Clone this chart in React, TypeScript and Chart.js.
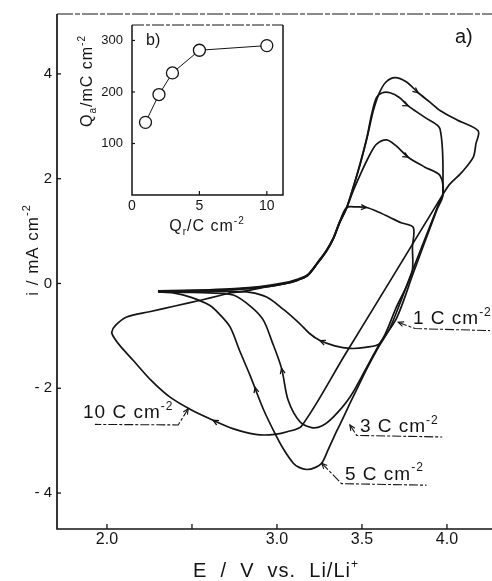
import React, { useEffect, useRef } from "react";
import { Chart, registerables } from "chart.js";

Chart.register(...registerables);

const FONT = '"Liberation Sans", Arial, Helvetica, sans-serif';
const INK = "#141414";
const PAGE_W = 492;
const PAGE_H = 581;

// ---------- panel a): current density i / mA cm-2 against E / V vs. Li/Li+ ----------
const xTicks = [2.0, 2.5, 3.0, 3.5, 4.0];
const xTickLabels = ["2.0", "", "3.0", "3.5", "4.0"];
const yTicks = [-4, -2, 0, 2, 4];
const yTickLabels = ["- 4", "- 2", "0", "2", "4"];

// 1 C cm-2
const cv1E = [2.30, 2.45, 2.60, 2.75, 2.90, 3.04, 3.12, 3.18, 3.24, 3.29, 3.33, 3.37, 3.41, 3.47, 3.527, 3.60, 3.665, 3.73, 3.802, 3.797, 3.794, 3.70, 3.606, 3.52, 3.429, 3.34, 3.253, 3.19, 3.135, 3.04, 2.939, 2.841, 2.70, 2.55, 2.30];
const cv1I = [-0.14, -0.13, -0.12, -0.10, -0.06, 0.01, 0.08, 0.17, 0.41, 0.63, 0.86, 1.19, 1.45, 1.46, 1.45, 1.36, 1.26, 1.16, 1.07, 0.70, 0.21, -0.47, -1.14, -1.22, -1.24, -1.19, -1.09, -0.95, -0.77, -0.50, -0.26, -0.17, -0.15, -0.14, -0.14];

// 3 C cm-2
const cv3E = [2.30, 2.45, 2.60, 2.75, 2.90, 3.04, 3.12, 3.18, 3.24, 3.29, 3.33, 3.37, 3.41, 3.45, 3.50, 3.55, 3.586, 3.645, 3.70, 3.772, 3.87, 3.959, 3.976, 3.94, 3.80, 3.704, 3.606, 3.518, 3.429, 3.331, 3.263, 3.204, 3.135, 3.066, 3.027, 2.97, 2.92, 2.85, 2.743, 2.60, 2.45, 2.30];
const cv3I = [-0.16, -0.15, -0.14, -0.12, -0.08, -0.01, 0.06, 0.15, 0.39, 0.61, 0.84, 1.17, 1.44, 1.78, 2.15, 2.48, 2.66, 2.74, 2.63, 2.41, 2.22, 2.06, 1.68, 1.40, 0.18, -0.66, -1.14, -1.66, -2.17, -2.55, -2.72, -2.75, -2.64, -2.23, -1.62, -1.10, -0.70, -0.45, -0.22, -0.18, -0.17, -0.16];

// 5 C cm-2
const cv5E = [2.30, 2.45, 2.60, 2.75, 2.90, 3.04, 3.12, 3.18, 3.24, 3.29, 3.33, 3.37, 3.41, 3.45, 3.49, 3.53, 3.557, 3.586, 3.62, 3.665, 3.72, 3.772, 3.87, 3.959, 3.976, 3.959, 3.80, 3.665, 3.60, 3.53, 3.48, 3.429, 3.39, 3.351, 3.30, 3.263, 3.22, 3.175, 3.13, 3.096, 3.04, 2.988, 2.92, 2.841, 2.78, 2.724, 2.66, 2.606, 2.50, 2.39, 2.30];
const cv5I = [-0.15, -0.14, -0.13, -0.11, -0.07, 0.00, 0.07, 0.16, 0.40, 0.62, 0.85, 1.18, 1.45, 1.85, 2.30, 2.80, 3.23, 3.55, 3.64, 3.64, 3.55, 3.39, 3.17, 2.95, 1.71, 1.58, 0.27, -0.85, -1.20, -1.62, -1.95, -2.29, -2.56, -2.82, -3.18, -3.43, -3.52, -3.55, -3.51, -3.43, -3.17, -2.86, -2.40, -1.75, -1.28, -0.83, -0.58, -0.42, -0.27, -0.18, -0.16];

// 10 C cm-2
const cv10E = [2.724, 2.80, 2.90, 3.04, 3.12, 3.18, 3.24, 3.29, 3.33, 3.37, 3.41, 3.45, 3.49, 3.53, 3.567, 3.60, 3.64, 3.694, 3.76, 3.831, 3.90, 3.959, 4.06, 4.184, 4.17, 4.155, 4.09, 4.018, 3.978, 3.70, 3.40, 3.145, 3.06, 2.988, 2.90, 2.841, 2.74, 2.624, 2.50, 2.371, 2.26, 2.155, 2.08, 2.045, 2.028, 2.05, 2.116, 2.25, 2.40, 2.55, 2.665, 2.724];
const cv10I = [-0.18, -0.15, -0.09, -0.01, 0.06, 0.15, 0.39, 0.61, 0.84, 1.17, 1.44, 1.85, 2.28, 2.78, 3.30, 3.62, 3.84, 3.93, 3.85, 3.64, 3.46, 3.30, 3.12, 2.91, 2.66, 2.41, 2.13, 1.90, 1.71, 0.23, -1.36, -2.72, -2.83, -2.88, -2.89, -2.86, -2.77, -2.61, -2.42, -2.17, -1.85, -1.47, -1.20, -1.05, -0.93, -0.80, -0.64, -0.54, -0.43, -0.32, -0.23, -0.18];

// curve captions "n C cm-2": charge, text anchor (E, i) and leader polyline
const captionCharge = ["1", "3", "5", "10"];
const captionE = [3.80, 3.488, 3.40, 1.859];
const captionI = [-0.78, -2.84, -3.75, -2.57];
const leaderE = [[3.713, 3.812, 4.253], [3.429, 3.469, 3.972], [3.263, 3.38, 3.88], [2.478, 2.419, 1.929]];
const leaderI = [[-0.74, -0.86, -0.90], [-2.70, -2.90, -2.93], [-3.43, -3.82, -3.85], [-2.39, -2.70, -2.69]];

// sweep-direction arrowheads: position (E, i) and heading (dE, di)
const arrowMarks = [
  [3.831, 3.64, 0.07, -0.18],
  [3.772, 3.39, 0.10, -0.16],
  [3.772, 2.41, 0.10, -0.19],
  [3.527, 1.45, 0.08, -0.02],
  [3.253, -1.09, -0.12, 0.16],
  [3.027, -1.62, -0.04, 0.6],
  [2.871, -1.98, -0.04, 0.5],
  [2.624, -2.61, -0.25, 0.44],
];

// ---------- panel b): anodic charge Qa against charge passed Qr ----------
const qrValues = [1, 2, 3, 5, 10];
const qaValues = [141, 195, 237, 281, 290];
const insetXTicks = [0, 5, 10];
const insetYTicks = [100, 200, 300];

type Part = { t: string; sup?: boolean; sub?: boolean };

function drawParts(
  ctx: CanvasRenderingContext2D,
  parts: Part[],
  x: number,
  y: number,
  size: number,
  align: "left" | "center" = "left",
  spacing = 0
) {
  (ctx as any).letterSpacing = `${spacing}px`;
  const fonts = parts.map((p) => `${p.sup || p.sub ? Math.round(size * 0.62) : size}px ${FONT}`);
  const widths = parts.map((p, k) => {
    ctx.font = fonts[k];
    return ctx.measureText(p.t).width;
  });
  const total = widths.reduce((a, b) => a + b, 0);
  let cx = align === "center" ? x - total / 2 : x;
  ctx.textAlign = "left";
  ctx.textBaseline = "alphabetic";
  parts.forEach((p, k) => {
    ctx.font = fonts[k];
    const dy = p.sup ? -size * 0.45 : p.sub ? size * 0.22 : 0;
    ctx.fillText(p.t, cx, y + dy);
    cx += widths[k];
  });
  (ctx as any).letterSpacing = "0px";
}

function polyline(ctx: CanvasRenderingContext2D, pts: number[][]) {
  ctx.beginPath();
  pts.forEach(([px, py], k) => (k ? ctx.lineTo(px, py) : ctx.moveTo(px, py)));
  ctx.stroke();
}

function arrowHead(ctx: CanvasRenderingContext2D, px: number, py: number, dx: number, dy: number, size = 6.5) {
  const len = Math.hypot(dx, dy) || 1;
  const bx = -dx / len;
  const by = -dy / len;
  const ang = 0.42;
  const r = (a: number) => [bx * Math.cos(a) - by * Math.sin(a), bx * Math.sin(a) + by * Math.cos(a)];
  const [ax, ay] = r(ang);
  const [cx, cy] = r(-ang);
  polyline(ctx, [[px + ax * size, py + ay * size], [px, py], [px + cx * size, py + cy * size]]);
}

function labelFor(values: number[], labels: string[], v: number) {
  const k = values.findIndex((t) => Math.abs(t - v) < 1e-6);
  return k >= 0 ? labels[k] : "";
}

const mainDecor = {
  id: "mainDecor",
  afterDraw(chart: any) {
    const { ctx, chartArea: a } = chart;
    const xs = chart.scales.x;
    const ys = chart.scales.y;
    const P = (e: number, i: number) => [xs.getPixelForValue(e), ys.getPixelForValue(i)];
    ctx.save();
    ctx.strokeStyle = INK;
    ctx.fillStyle = INK;
    ctx.lineCap = "butt";

    // frame: solid left and bottom axes, broken top rule
    ctx.lineWidth = 1.7;
    polyline(ctx, [[a.left, a.top], [a.left, a.bottom], [a.right, a.bottom]]);
    ctx.lineWidth = 1.2;
    ctx.setLineDash([16, 2, 5, 2]);
    polyline(ctx, [[a.left, a.top], [a.right, a.top]]);
    ctx.setLineDash([]);

    // inward tick marks
    ctx.lineWidth = 1.3;
    xTicks.forEach((v) => {
      const px = xs.getPixelForValue(v);
      polyline(ctx, [[px, a.bottom], [px, a.bottom - 5]]);
    });
    yTicks.forEach((v) => {
      const py = ys.getPixelForValue(v);
      polyline(ctx, [[a.left, py], [a.left + 4, py]]);
    });

    // curve captions with leader lines
    captionCharge.forEach((q, k) => {
      const pts = leaderE[k].map((e, j) => P(e, leaderI[k][j]));
      ctx.lineWidth = 1.1;
      ctx.setLineDash([9, 2, 3, 2]);
      polyline(ctx, pts);
      ctx.setLineDash([]);
      arrowHead(ctx, pts[0][0], pts[0][1], pts[0][0] - pts[1][0], pts[0][1] - pts[1][1], 6);
      const [tx, ty] = P(captionE[k], captionI[k]);
      drawParts(ctx, [{ t: `${q} C cm` }, { t: "-2", sup: true }], tx, ty, 19, "left", 1);
    });

    // sweep-direction arrowheads
    ctx.lineWidth = 1.3;
    arrowMarks.forEach(([e, i, de, di]) => {
      const [px, py] = P(e, i);
      const [qx, qy] = P(e + de, i + di);
      arrowHead(ctx, px, py, qx - px, qy - py, 6);
    });

    // axis titles and panel tag
    drawParts(ctx, [{ t: "E  /  V  vs.  Li/Li" }, { t: "+", sup: true }], 276, 577, 20, "center", 1);
    ctx.save();
    ctx.translate(38, 250);
    ctx.rotate(-Math.PI / 2);
    drawParts(ctx, [{ t: "i / mA cm" }, { t: "-2", sup: true }], 0, 0, 17, "center", 1);
    ctx.restore();
    drawParts(ctx, [{ t: "a)" }], 455, 43, 20);
    ctx.restore();
  },
};

const insetDecor = {
  id: "insetDecor",
  afterDraw(chart: any) {
    const { ctx, chartArea: a } = chart;
    const xs = chart.scales.x;
    const ys = chart.scales.y;
    ctx.save();
    ctx.strokeStyle = INK;
    ctx.fillStyle = INK;
    ctx.lineWidth = 1.5;
    polyline(ctx, [[a.left, a.top], [a.left, a.bottom], [a.right, a.bottom], [a.right, a.top]]);
    ctx.lineWidth = 1.1;
    ctx.setLineDash([12, 2, 4, 2]);
    polyline(ctx, [[a.left, a.top], [a.right, a.top]]);
    ctx.setLineDash([]);
    ctx.lineWidth = 1.2;
    insetXTicks.filter((v) => v > 0).forEach((v) => {
      const px = xs.getPixelForValue(v);
      polyline(ctx, [[px, a.bottom], [px, a.bottom - 4]]);
    });
    insetYTicks.forEach((v) => {
      const py = ys.getPixelForValue(v);
      polyline(ctx, [[a.left, py], [a.left + 3, py]]);
    });
    drawParts(ctx, [{ t: "b)" }], 146, 45, 16);
    drawParts(ctx, [{ t: "Q" }, { t: "r", sub: true }, { t: "/C cm" }, { t: "-2", sup: true }], 207, 231, 16, "center", 1);
    ctx.save();
    ctx.translate(92, 81);
    ctx.rotate(-Math.PI / 2);
    drawParts(ctx, [{ t: "Q" }, { t: "a", sub: true }, { t: "/mC cm" }, { t: "-2", sup: true }], 0, 0, 16, "center", 1);
    ctx.restore();
    ctx.restore();
  },
};

function mainConfig(): any {
  const series = [
    [cv1E, cv1I],
    [cv3E, cv3I],
    [cv5E, cv5I],
    [cv10E, cv10I],
  ];
  return {
    type: "line",
    data: {
      datasets: series.map(([es, is]) => ({
        data: es.map((e, k) => ({ x: e, y: is[k] })),
        borderColor: INK,
        borderWidth: 1.7,
        pointRadius: 0,
        tension: 0.3,
        fill: false,
      })),
    },
    options: {
      responsive: false,
      animation: false,
      devicePixelRatio: 1,
      layout: { padding: { top: 13, right: 0, left: 0, bottom: 0 } },
      plugins: { legend: { display: false }, tooltip: { enabled: false } },
      scales: {
        x: {
          type: "linear",
          min: 1.706,
          max: 4.265,
          afterFit: (s: any) => { s.height = 52; },
          afterBuildTicks: (s: any) => { s.ticks = xTicks.map((v) => ({ value: v })); },
          grid: { display: false, drawTicks: false },
          border: { display: false },
          ticks: {
            autoSkip: false,
            maxRotation: 0,
            padding: 1,
            color: INK,
            font: { family: FONT, size: 16 },
            callback: (v: any) => labelFor(xTicks, xTickLabels, Number(v)),
          },
        },
        y: {
          type: "linear",
          min: -4.686,
          max: 5.143,
          afterFit: (s: any) => { s.width = 57; },
          afterBuildTicks: (s: any) => { s.ticks = yTicks.map((v) => ({ value: v })); },
          grid: { display: false, drawTicks: false },
          border: { display: false },
          ticks: {
            padding: 5,
            color: INK,
            font: { family: FONT, size: 15 },
            callback: (v: any) => labelFor(yTicks, yTickLabels, Number(v)),
          },
        },
      },
    },
    plugins: [mainDecor],
  };
}

function insetConfig(): any {
  return {
    type: "line",
    data: {
      datasets: [
        {
          data: qrValues.map((q, k) => ({ x: q, y: qaValues[k] })),
          borderColor: INK,
          borderWidth: 1,
          pointRadius: 6,
          pointBorderWidth: 1.3,
          pointBorderColor: INK,
          pointBackgroundColor: "#fff",
          tension: 0,
          fill: false,
        },
      ],
    },
    options: {
      responsive: false,
      animation: false,
      devicePixelRatio: 1,
      layout: { padding: { top: 25, right: PAGE_W - 283, left: 0, bottom: 0 } },
      plugins: { legend: { display: false }, tooltip: { enabled: false } },
      scales: {
        x: {
          type: "linear",
          min: 0,
          max: 11.2,
          afterFit: (s: any) => { s.height = PAGE_H - 195; },
          afterBuildTicks: (s: any) => { s.ticks = insetXTicks.map((v) => ({ value: v })); },
          grid: { display: false, drawTicks: false },
          border: { display: false },
          ticks: { autoSkip: false, maxRotation: 0, padding: 3, color: INK, font: { family: FONT, size: 14 } },
        },
        y: {
          type: "linear",
          min: 0,
          max: 330,
          afterFit: (s: any) => { s.width = 132; },
          afterBuildTicks: (s: any) => { s.ticks = insetYTicks.map((v) => ({ value: v })); },
          grid: { display: false, drawTicks: false },
          border: { display: false },
          ticks: { padding: 9, color: INK, font: { family: FONT, size: 13 } },
        },
      },
    },
    plugins: [insetDecor],
  };
}

export default function App() {
  const mainRef = useRef<HTMLCanvasElement>(null);
  const insetRef = useRef<HTMLCanvasElement>(null);

  useEffect(() => {
    const main = new Chart(mainRef.current as HTMLCanvasElement, mainConfig());
    const inset = new Chart(insetRef.current as HTMLCanvasElement, insetConfig());
    return () => {
      main.destroy();
      inset.destroy();
    };
  }, []);

  return (
    <div style={{ position: "fixed", left: 0, top: 0, width: PAGE_W, height: PAGE_H, background: "#fff" }}>
      <canvas ref={mainRef} width={PAGE_W} height={PAGE_H} style={{ position: "absolute", left: 0, top: 0 }} />
      <canvas ref={insetRef} width={PAGE_W} height={PAGE_H} style={{ position: "absolute", left: 0, top: 0 }} />
    </div>
  );
}
